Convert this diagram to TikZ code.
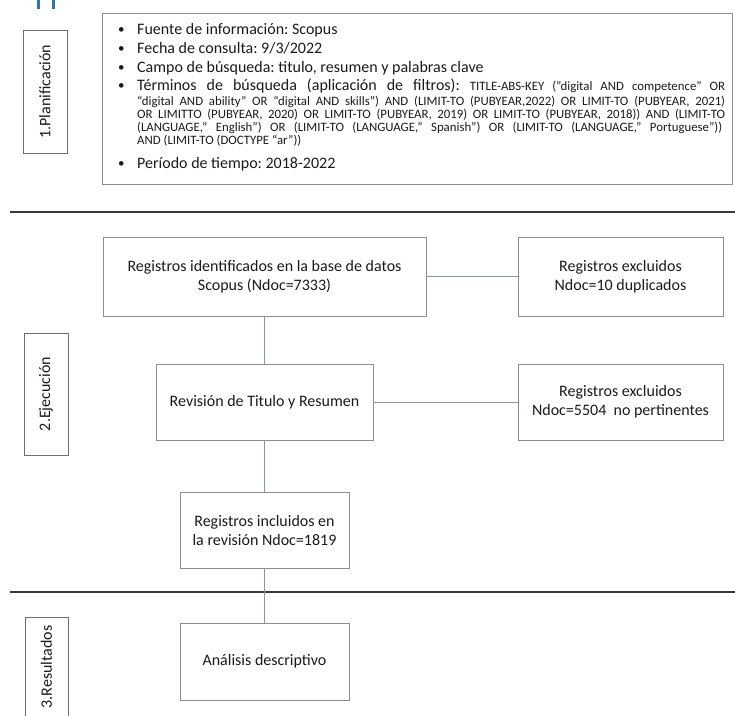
\documentclass[tikz,border=0pt]{standalone}
\usepackage{fontspec}
\setmainfont{Carlito}
\frenchspacing
\newcommand\fsbig{\fontsize{16}{19}\selectfont}
\newcommand\fssmall{\fontsize{12.8}{13}\selectfont}
\newcommand\fsbul{\fontsize{13}{15}\selectfont}
\definecolor{boxgray}{HTML}{8C8C8C}
\definecolor{lblgray}{HTML}{6F6F6F}
\definecolor{conncol}{HTML}{8497B0}
\definecolor{sepcol}{HTML}{3A3A3A}
\definecolor{headblue}{HTML}{2E75B6}
\definecolor{txtcol}{HTML}{1A1A1A}
\begin{document}
\begin{tikzpicture}[x=1pt,y=-1pt,
  flowbox/.style={draw=boxgray, line width=0.9pt, rectangle, inner sep=0pt,
    align=center, font=\fsbig, text=txtcol},
  lblbox/.style={draw=lblgray, line width=0.9pt, rectangle, inner sep=0pt,
    rotate=90, font=\fsbig, text=txtcol},
  lbltext/.style={inner sep=0pt, rotate=90, font=\fsbig, text=txtcol},
  plantxt/.style={inner sep=0pt, anchor=base west, font=\fsbig, text=txtcol},
  bultxt/.style={inner sep=0pt, anchor=base west, font=\fsbul, text=txtcol},
  conn/.style={draw=conncol, line width=0.8pt},
  sepline/.style={draw=sepcol, line width=1.8pt}]
\useasboundingbox (0,0) rectangle (735,715);

% fragment of heading at top
\fill[headblue] (37,0) rectangle (40,9);
\fill[headblue] (52,0) rectangle (55,9);

% ---- 1. Planificacion ----
\node[flowbox, minimum width=630pt, minimum height=171pt] (plan) at (417,98.5) {};
\node[lblbox, minimum width=123pt, minimum height=44pt] (lab1) at (45,91.5) {1.Planificación};

\node[bultxt] (bu1) at (118,33.5) {•};
\node[plantxt] (it1) at (137,34.5) {Fuente de información: Scopus};
\node[bultxt] (bu2) at (118,52.3) {•};
\node[plantxt] (it2) at (137,53.3) {Fecha de consulta: 9/3/2022};
\node[bultxt] (bu3) at (118,71) {•};
\node[plantxt] (it3) at (137,72) {Campo de búsqueda: titulo, resumen y palabras clave};
\node[bultxt] (bu4) at (118,89.7) {•};
\node[plantxt] (it4) at (137,90.7) {\makebox[588pt][s]{\fsbig Términos de búsqueda (aplicación de filtros): \fssmall TITLE-ABS-KEY ("digital AND competence" OR}};
\node[plantxt] (q2) at (137,105) {\fssmall\makebox[588pt][s]{“digital AND ability” OR “digital AND skills”) AND (LIMIT-TO (PUBYEAR,2022) OR LIMIT-TO (PUBYEAR, 2021)}};
\node[plantxt] (q3) at (137,118) {\fssmall\makebox[588pt][s]{OR LIMITTO (PUBYEAR, 2020) OR LIMIT-TO (PUBYEAR, 2019) OR LIMIT-TO (PUBYEAR, 2018)) AND (LIMIT-TO}};
\node[plantxt] (q4) at (137,131) {\fssmall\makebox[585pt][s]{(LANGUAGE,” English”) OR (LIMIT-TO (LANGUAGE,” Spanish”) OR (LIMIT-TO (LANGUAGE,” Portuguese”))}};
\node[plantxt] (q5) at (137,144) {\fssmall AND (LIMIT-TO (DOCTYPE “ar”))};
\node[bultxt] (bu5) at (118,167) {•};
\node[plantxt] (it5) at (137,168) {Período de tiempo: 2018-2022};

% separator 1
\coordinate (s1a) at (10,212);
\coordinate (s1b) at (735,212);
\draw[sepline] (s1a) -- (s1b);

% ---- 2. Ejecucion ----
\node[lblbox, minimum width=122pt, minimum height=44pt] (lab2) at (46,394) {2.Ejecución};

\node[flowbox, minimum width=323pt, minimum height=79pt] (b1) at (264.5,276.5)
  {Registros identificados en la base de datos\\Scopus (Ndoc=7333)};
\node[flowbox, minimum width=205pt, minimum height=79pt] (e1) at (620.5,276.5)
  {Registros excluidos\\Ndoc=10 duplicados};
\node[flowbox, minimum width=217pt, minimum height=76pt] (b2) at (264.5,402)
  {Revisión de Titulo y Resumen};
\node[flowbox, minimum width=205pt, minimum height=76pt] (e2) at (620.5,402)
  {Registros excluidos\\Ndoc=5504\ \ no pertinentes};
\node[flowbox, minimum width=169pt, minimum height=76pt] (b3) at (264.5,530)
  {Registros incluidos en\\la revisión Ndoc=1819};

% separator 2
\coordinate (s2a) at (10,592);
\coordinate (s2b) at (735,592);
\draw[sepline] (s2a) -- (s2b);

% ---- 3. Resultados ----
\node[lblbox, minimum width=110pt, minimum height=43pt] (lab3) at (46.5,672) {};
\node[lbltext] (lab3t) at (46.5,667) {3.Resultados};
\node[flowbox, minimum width=169pt, minimum height=77pt] (b4) at (264.5,661.5)
  {Análisis descriptivo};

% connectors
\draw[conn] (b1.south) -- (b2.north);
\draw[conn] (b2.south) -- (b3.north);
\draw[conn] (b3.south) -- (b4.north);
\draw[conn] (b1.east) -- (e1.west);
\draw[conn] (b2.east) -- (e2.west);
\end{tikzpicture}
\end{document}
